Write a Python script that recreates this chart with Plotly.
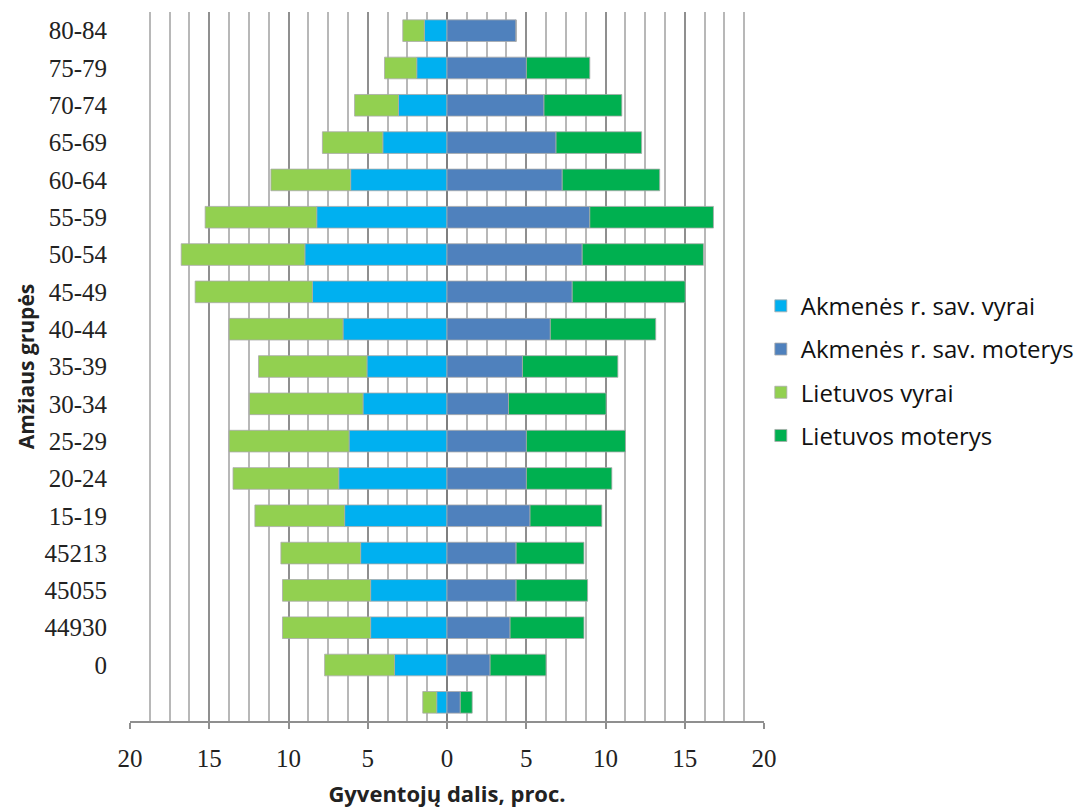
import plotly.graph_objects as go

# Categories bottom -> top
age_groups = ["", "0", "44930", "45055", "45213", "15-19", "20-24", "25-29", "30-34",
              "35-39", "40-44", "45-49", "50-54", "55-59", "60-64", "65-69", "70-74",
              "75-79", "80-84"]

akm_vyrai = [0.65, 3.31, 4.82, 4.82, 5.45, 6.46, 6.83, 6.18, 5.30,
             5.05, 6.56, 8.49, 8.97, 8.22, 6.08, 4.05, 3.06, 1.91, 1.43]
akm_moterys = [0.84, 2.72, 3.98, 4.36, 4.36, 5.24, 5.01, 5.01, 3.88,
               4.76, 6.52, 7.90, 8.53, 9.01, 7.27, 6.88, 6.12, 5.01, 4.36]
lt_vyrai = [0.88, 4.41, 5.56, 5.56, 5.03, 5.66, 6.67, 7.57, 7.17,
            6.84, 7.19, 7.40, 7.80, 7.04, 5.03, 3.81, 2.77, 2.03, 1.36]
lt_moterys = [0.75, 3.53, 4.66, 4.51, 4.28, 4.53, 5.39, 6.25, 6.16,
              6.02, 6.65, 7.13, 7.65, 7.80, 6.15, 5.40, 4.91, 4.00, 0.0]

series_names = ["Akmenės r. sav. vyrai", "Akmenės r. sav. moterys",
                "Lietuvos vyrai", "Lietuvos moterys"]
colors = ["#00B0F0", "#4F81BD", "#92D050", "#00B050"]

tick_vals = [-20, -15, -10, -5, 0, 5, 10, 15, 20]
tick_text = ["20", "15", "10", "5", "0", "5", "10", "15", "20"]

ypos = list(range(len(age_groups)))

fig = go.Figure()
data = [
    [-v for v in akm_vyrai],
    akm_moterys,
    [-v for v in lt_vyrai],
    lt_moterys,
]
for i, (name, vals, col) in enumerate(zip(series_names, data, colors)):
    fig.add_trace(go.Bar(
        x=vals, y=ypos, orientation="h", name=name,
        marker=dict(color=col, line=dict(color="rgba(170,170,170,0.8)", width=1)),
        legendgroup=f"g{i}",
        hoverinfo="x+y+name",
    ))

fig.update_layout(
    width=1086, height=809,
    barmode="relative",
    bargap=0.42,
    plot_bgcolor="white",
    paper_bgcolor="white",
    margin=dict(l=122, r=330, t=4, b=96, autoexpand=False),
    font=dict(family="Liberation Serif", color="#222222"),
    legend=dict(
        x=0.995, xanchor="left", y=0.494, yanchor="middle",
        font=dict(family="Open Sans", size=24, color="#111111"),
        traceorder="grouped", tracegroupgap=9,
        itemwidth=30, bgcolor="rgba(0,0,0,0)",
    ),
    showlegend=True,
)

fig.update_xaxes(
    range=[-20, 20],
    tickvals=tick_vals, ticktext=tick_text,
    tickfont=dict(family="Liberation Serif", size=25, color="#222222"),
    ticklabelstandoff=8,
    showgrid=True, gridcolor="#8f8f8f", gridwidth=2,
    minor=dict(dtick=1.25, tick0=0, showgrid=True, gridcolor="#b8b8b8", gridwidth=1.5),
    zeroline=True, zerolinecolor="#7f7f7f", zerolinewidth=2,
    showline=True, linecolor="#8f8f8f", linewidth=1.5,
    ticks="outside", ticklen=6, tickcolor="#8f8f8f", tickwidth=1.5,
    title=dict(text="<b>Gyventojų dalis, proc.</b>",
               font=dict(family="Open Sans", size=22, color="#222222"), standoff=16),
    fixedrange=True,
)
fig.update_yaxes(
    range=[-0.5, len(age_groups) - 0.5],
    tickvals=ypos, ticktext=age_groups,
    tickfont=dict(family="Liberation Serif", size=25, color="#222222"),
    showgrid=False, zeroline=False, showline=False,
    ticks="", ticklabelstandoff=22,
    title=dict(text="<b>Amžiaus grupės</b>",
               font=dict(family="Open Sans", size=21, color="#222222"), standoff=4),
    fixedrange=True,
)

fig.write_html("out.html")
